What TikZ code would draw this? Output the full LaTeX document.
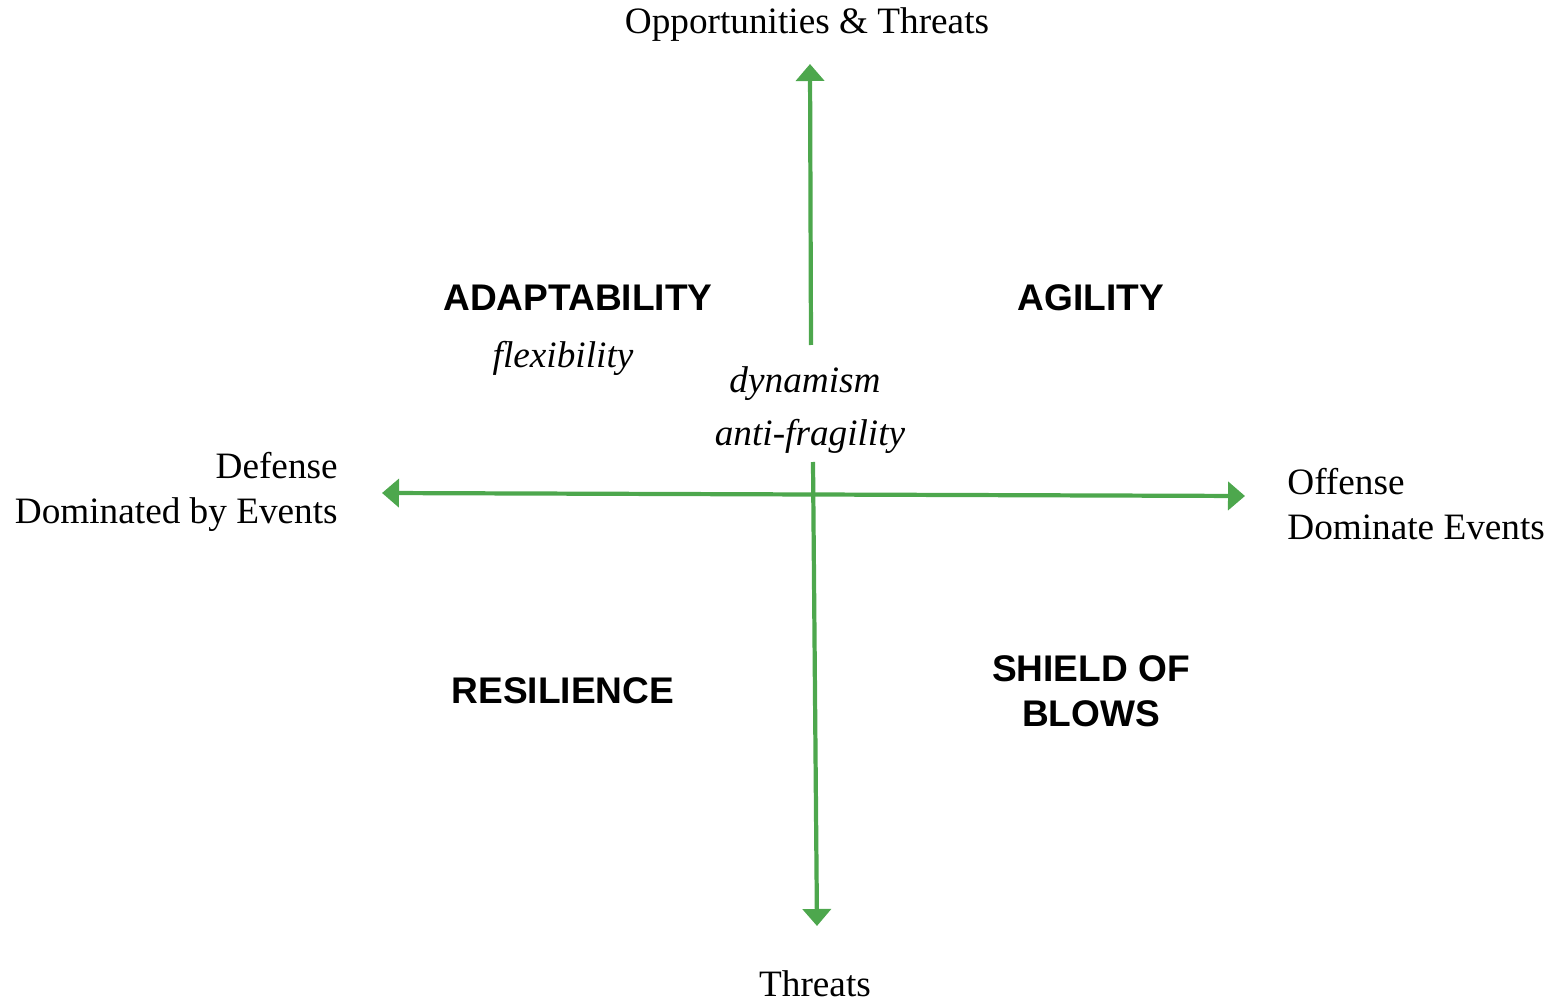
\documentclass[tikz,border=0pt]{standalone}
\usepackage{fontspec}
\setmainfont{Liberation Serif}
\setsansfont{Liberation Sans}
\usetikzlibrary{arrows.meta}
\definecolor{axisgreen}{RGB}{77,167,77}

\begin{document}
\begin{tikzpicture}[x=0.02cm, y=-0.02cm,
    tip/.style={arrows={-Triangle[width=0.56cm,length=0.34cm]}},
    axis/.style={axisgreen, line width=2.4pt},
    lbl/.style={inner sep=0pt, font=\fontsize{21.2}{25.5}\selectfont},
    quadrant/.style={inner sep=0pt, align=center, font=\fontsize{21.1}{25.5}\sffamily\bfseries},
    trait/.style={inner sep=0pt, font=\fontsize{21.2}{25.5}\selectfont\itshape}]
\useasboundingbox (0,0) rectangle (1559,1003);
% nodes

\node[lbl] (opps) at (807,25) {Opportunities \& Threats};
\node[lbl] (threats) at (815,984) {Threats};
\node[lbl, anchor=east, align=right] (defense) at (338,492) {Defense\\Dominated by Events};
\node[lbl, anchor=west, align=left] (offense) at (1287,504) {Offense\\Dominate Events};

\node[quadrant] (adapt) at (578,298) {ADAPTABILITY};
\node[trait] (flex) at (563,358) {flexibility};
\node[quadrant] (agility) at (1091,298) {AGILITY};
\node[trait] (dyn) at (805,384) {dynamism};
\node[trait] (anti) at (810,436) {anti-fragility};
\node[quadrant] (resil) at (563,691) {RESILIENCE};
\node[quadrant] (shield) at (1091,691) {SHIELD OF\\BLOWS};

% axes
\coordinate (top) at (810,64);
\coordinate (upper) at (811,345);
\coordinate (lower) at (813,462);
\coordinate (bottom) at (817,926);
\coordinate (left) at (382,493);
\coordinate (right) at (1245,496);

\draw[axis, tip] (upper) -- (top);
\draw[axis, tip] (lower) -- (bottom);
\draw[axis, arrows={Triangle[width=0.56cm,length=0.34cm]-Triangle[width=0.56cm,length=0.34cm]}] (left) -- (right);
\end{tikzpicture}
\end{document}
